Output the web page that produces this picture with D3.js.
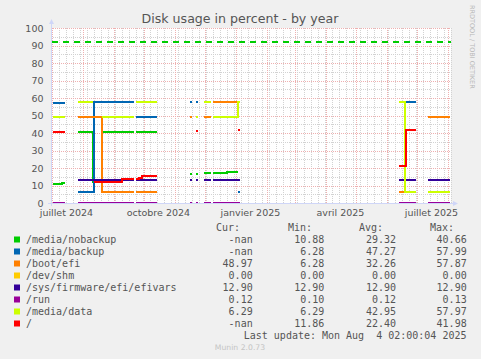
<!DOCTYPE html>
<html><head><meta charset="utf-8">
<script src="https://cdn.jsdelivr.net/npm/d3@7/dist/d3.min.js"></script>
<style>
html,body{margin:0;padding:0;background:#f0f0f0;}
svg{display:block;}
</style></head><body>
<svg id="chart" width="481" height="359"></svg>
<script>
// ---- data ----
const dates = ["2024-07-02","2024-07-11","2024-07-14","2024-07-15","2024-07-27","2024-08-11","2024-08-12","2024-08-20","2024-09-09","2024-09-21",
  "2024-09-22","2024-09-23","2024-09-26","2024-09-29","2024-10-14","2024-10-15","2024-11-16","2024-11-18","2024-11-19","2024-11-22",
  "2024-11-24","2024-11-25","2024-11-30","2024-12-07","2024-12-08","2024-12-09","2024-12-23","2025-01-03","2025-01-05","2025-01-06",
  "2025-06-13","2025-06-19","2025-06-20","2025-06-30","2025-07-01","2025-07-12","2025-08-03"];
const N = null;
const nobackup = [10.6,11.4,11.4,N,40.6,11.9,11.9,40.6,40.6,40.6, N,40.6,40.6,40.6,40.6,N,16.6,16.6,N,16.6, 16.6,N,17.1,17.1,N,17.1,17.9,17.9,N,N, N,N,N,N,N,N,N];
const backup   = [57.1,57.1,57.1,N,6.3,6.3,57.6,57.6,57.6,57.6, N,49.1,49.1,49.1,49.1,N,57.6,57.6,N,57.6, 57.6,N,N,N,N,N,N,6.3,6.3,N, N,57.6,57.6,57.6,N,N,N];
const bootefi  = [N,N,N,N,49.1,49.1,49.1,6.3,6.3,6.3, N,6.3,6.3,6.3,6.3,N,49.1,49.1,N,N, N,N,49.1,49.1,N,57.6,57.6,57.6,N,N, 6.3,6.3,N,N,N,49.1,49.1];
const devshm   = [0,0,0,N,0,0,0,0,0,0, N,0,0,0,0,N,0,0,N,0, 0,N,0,0,N,0,0,0,0,N, 0,0,0,0,N,0,0];
const efivars  = [N,N,N,N,12.9,12.9,12.9,12.9,12.9,12.9, N,12.9,12.9,12.9,12.9,N,12.9,12.9,N,12.9, 12.9,N,12.9,12.9,N,12.9,12.9,12.9,12.9,N, 12.9,12.9,12.9,12.9,N,12.9,12.9];
const run      = [0.12,0.12,0.12,N,0.1,0.11,0.12,0.12,0.12,0.12, N,0.12,0.12,0.12,0.12,N,0.12,0.12,N,0.12, 0.12,N,0.12,0.12,N,0.12,0.12,0.13,0.13,N, 0.12,0.12,0.12,0.12,N,0.12,0.12];
const mediadata= [49.1,49.1,49.1,N,57.6,57.6,N,49.1,49.1,49.1, N,57.6,57.6,57.6,57.6,N,N,N,N,49.1, 49.1,N,57.6,57.6,N,49.1,49.1,57.6,57.6,N, 57.6,6.3,6.3,6.3,N,6.3,6.3];
const root     = [40.6,40.6,40.6,N,N,N,11.9,11.9,13.5,13.5, N,13.5,14.1,15.3,15.3,N,N,N,N,41.1, 41.1,N,N,N,N,N,N,41.7,41.7,N, 21.1,21.1,41.8,41.8,N,N,N];

const seriesNames  = ["/media/nobackup","/media/backup","/boot/efi","/dev/shm","/sys/firmware/efi/efivars","/run","/media/data","/"];
const seriesColors = ["#00cc00","#0066b3","#ff8000","#ffcc00","#330099","#990099","#ccff00","#ff0000"];
const seriesValues = [nobackup, backup, bootefi, devshm, efivars, run, mediadata, root];
const curValues = ["-nan","-nan","48.97","0.00","12.90","0.12","6.29","-nan"];
const minValues = ["10.88","6.28","6.28","0.00","12.90","0.10","6.29","11.86"];
const avgValues = ["29.32","47.27","32.26","0.00","12.90","0.12","42.95","22.40"];
const maxValues = ["40.66","57.99","57.87","0.00","12.90","0.13","57.97","41.98"];
const warningLevel = 92;

const yTicks = [0,10,20,30,40,50,60,70,80,90,100];
const xTickMonths = ["2024-07-01","2024-10-01","2025-01-01","2025-04-01","2025-07-01"];
const xTickLabels = ["juillet 2024","octobre 2024","janvier 2025","avril 2025","juillet 2025"];

const titleText = "Disk usage in percent - by year";
const lastUpdate = "Last update: Mon Aug  4 02:00:04 2025";

// ---- layout ----
const svg = d3.select("#chart");
const L = 51, R = 451, T = 28, B = 203;
const endT = new Date(Date.UTC(2025,7,4,2,0,4));
const startT = d3.utcDay.offset(endT, -400);
const x = d3.scaleUtc().domain([startT, endT]).range([L, R]);
const y = d3.scaleLinear().domain([0,100]).range([B, T]);
const parse = d3.utcParse("%Y-%m-%d");

svg.append("rect").attr("width",481).attr("height",359).attr("fill","#f0f0f0");
svg.append("rect").attr("x",L).attr("y",T).attr("width",R-L).attr("height",B-T).attr("fill","#ffffff");

// grid
const grid = svg.append("g");
const minorCol = "#d2d2d2", majorCol = "#eeb0b0";
d3.range(5,101,10).forEach(v => grid.append("line")
  .attr("x1",L).attr("x2",R).attr("y1",Math.round(y(v))+0.5).attr("y2",Math.round(y(v))+0.5)
  .attr("stroke",minorCol).attr("stroke-dasharray","1,1"));
d3.utcMonday.range(startT, endT).forEach(d => grid.append("line")
  .attr("x1",Math.round(x(d))+0.5).attr("x2",Math.round(x(d))+0.5).attr("y1",T).attr("y2",B)
  .attr("stroke",minorCol).attr("stroke-dasharray","1,1"));
yTicks.forEach(v => grid.append("line")
  .attr("x1",L).attr("x2",R).attr("y1",Math.round(y(v))+0.5).attr("y2",Math.round(y(v))+0.5)
  .attr("stroke",majorCol).attr("stroke-dasharray","1,1"));
d3.utcMonth.range(startT, endT).forEach(d => grid.append("line")
  .attr("x1",Math.round(x(d))+0.5).attr("x2",Math.round(x(d))+0.5).attr("y1",T).attr("y2",B)
  .attr("stroke",majorCol).attr("stroke-dasharray","1,1"));

// tick labels via d3 axes
const yAxis = svg.append("g").attr("transform",`translate(${L},0)`)
  .call(d3.axisLeft(y).tickValues(yTicks).tickSize(0).tickPadding(7.5));
yAxis.select(".domain").remove();
yAxis.selectAll("text").attr("font-family","DejaVu Sans").attr("font-size","9.5px").attr("fill","#555");

const xAxis = svg.append("g").attr("transform",`translate(0,${B})`)
  .call(d3.axisBottom(x).tickValues(xTickMonths.map(m => d3.utcDay.offset(parse(m),14)))
    .tickFormat((d,i) => xTickLabels[i]).tickSize(0).tickPadding(6.2));
xAxis.select(".domain").remove();
xAxis.selectAll("text").attr("font-family","DejaVu Sans").attr("font-size","9.5px").attr("fill","#555");

// warning line
svg.append("line").attr("x1",L+1).attr("x2",R).attr("y1",Math.round(y(warningLevel))).attr("y2",Math.round(y(warningLevel)))
  .attr("stroke","#00cc00").attr("stroke-width",2).attr("stroke-dasharray","6,5");

// series
const line = d3.line()
  .defined(d => d.v !== null)
  .x(d => Math.round(x(d.t))).y(d => Math.round(y(d.v)))
  .curve(d3.curveStepAfter);
const plot = svg.append("g");
seriesValues.forEach((vals,i) => {
  const pts = dates.map((dt,j) => ({t: parse(dt), v: vals[j]}));
  plot.append("path").attr("d", line(pts)).attr("fill","none")
    .attr("stroke", seriesColors[i]).attr("stroke-width",2);
});

// axes lines + arrows (on top)
const axCol = "#cfd6f8";
svg.append("line").attr("x1",L-3).attr("x2",R+3).attr("y1",B+0.5).attr("y2",B+0.5).attr("stroke",axCol);
svg.append("line").attr("x1",L+0.5).attr("x2",L+0.5).attr("y1",B+3).attr("y2",T-4).attr("stroke",axCol);
svg.append("path").attr("d",`M${R+2},${B-2} L${R+7},${B+0.5} L${R+2},${B+3} Z`).attr("fill",axCol);
svg.append("path").attr("d",`M${L-2},${T-4} L${L+0.5},${T-9} L${L+3},${T-4} Z`).attr("fill",axCol);

// title
svg.append("text").attr("x",240).attr("y",22.5).attr("text-anchor","middle")
  .attr("font-family","DejaVu Sans").attr("font-size","12.6px").attr("fill","#555").text(titleText);

// side text
svg.append("text").attr("transform","translate(470,5) rotate(90)")
  .attr("font-family","DejaVu Sans").attr("font-size","6.5px").attr("fill","#b8b8b8")
  .text("RRDTOOL / TOBI OETIKER");

// legend
const mono = "DejaVu Sans Mono";
const leg = svg.append("g").attr("font-family",mono).attr("font-size","10px").attr("fill","#555");
const hdrY = 230.8;
[["Cur:",240],["Min:",312],["Avg:",383],["Max:",454]].forEach(([t,xx]) =>
  leg.append("text").attr("x",xx).attr("y",hdrY).attr("text-anchor","end").text(t));
seriesNames.forEach((name,i) => {
  const cy = 239.5 + i*12;
  leg.append("rect").attr("x",14).attr("y",cy-3).attr("width",6).attr("height",6).attr("fill",seriesColors[i]);
  leg.append("text").attr("x",26).attr("y",cy+3.5).text(name);
  [[curValues,252.7],[minValues,324.3],[avgValues,396],[maxValues,466.7]].forEach(([arr,xx]) =>
    leg.append("text").attr("x",xx).attr("y",cy+3.5).attr("text-anchor","end").text(arr[i]));
});
leg.append("text").attr("x",466.5).attr("y",339.3).attr("text-anchor","end")
  .style("white-space","pre").text(lastUpdate);

svg.append("text").attr("x",240).attr("y",350).attr("text-anchor","middle")
  .attr("font-family","DejaVu Sans").attr("font-size","7.7px").attr("fill","#c4c4c4").text("Munin 2.0.73");
</script>
</body></html>
